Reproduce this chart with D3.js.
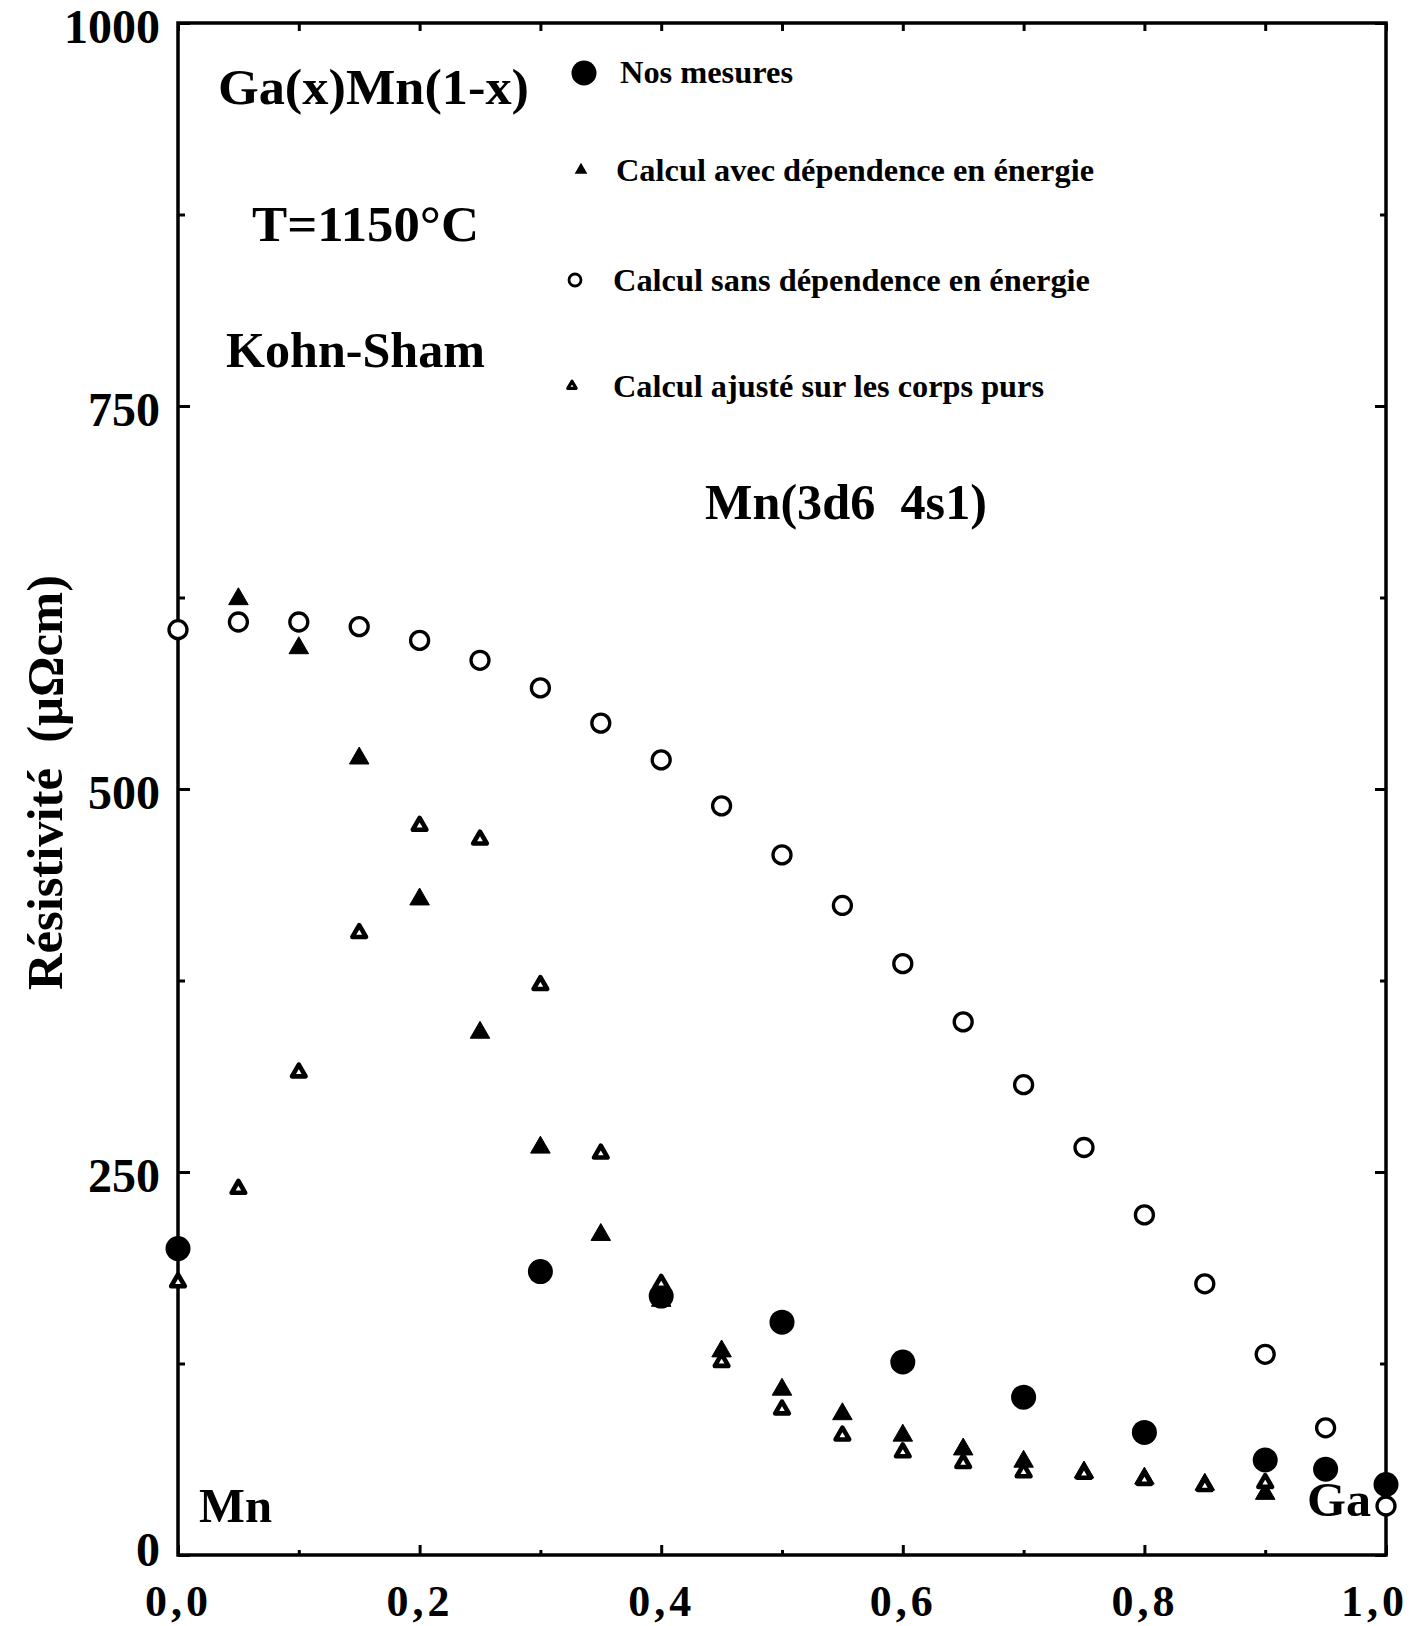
<!DOCTYPE html>
<html>
<head>
<meta charset="utf-8">
<script src="https://cdn.jsdelivr.net/npm/d3@7"></script>
<style>
  html, body { margin: 0; padding: 0; background: #fff; }
  svg { display: block; }
  text { font-family: "Liberation Serif", "Times New Roman", serif; font-weight: bold; fill: #000; }
</style>
</head>
<body>
<div id="chart"></div>
<script>
// ---------- data ----------
const xTickValues = [0, 0.2, 0.4, 0.6, 0.8, 1.0];
const xTickLabels = ["0,0", "0,2", "0,4", "0,6", "0,8", "1,0"];
const xMinorTicks = [0.1, 0.3, 0.5, 0.7, 0.9];
const yTickValues = [0, 250, 500, 750, 1000];
const yTickLabels = ["0", "250", "500", "750", "1000"];
const yMinorTicks = [125, 375, 625, 875];

// Nos mesures (filled circles)
const mesuresX = [0, 0.30, 0.40, 0.50, 0.60, 0.70, 0.80, 0.90, 0.95, 1.00];
const mesuresY = [200, 185, 169, 152, 126, 103, 80, 62, 56, 46];

// Calcul sans dépendence en énergie (open circles)
const sansX = [0, 0.05, 0.10, 0.15, 0.20, 0.25, 0.30, 0.35, 0.40, 0.45, 0.50, 0.55, 0.60, 0.65, 0.70, 0.75, 0.80, 0.85, 0.90, 0.95, 1.00];
const sansY = [604, 609, 609, 606, 597, 584, 566, 543, 519, 489, 457, 424, 386, 348, 307, 266, 222, 177, 131, 83, 32];

// Calcul avec dépendence en énergie (filled triangles)
const avecX = [0.05, 0.10, 0.15, 0.20, 0.25, 0.30, 0.35, 0.40, 0.45, 0.50, 0.55, 0.60, 0.65, 0.70, 0.75, 0.80, 0.85, 0.90];
const avecY = [624, 592, 520, 428, 341, 266, 209, 166, 133, 108, 92, 78, 69, 61, 54, 50, 46, 40];

// Calcul ajusté sur les corps purs (outlined triangles)
const ajusteX = [0, 0.05, 0.10, 0.15, 0.20, 0.25, 0.30, 0.35, 0.40, 0.45, 0.50, 0.55, 0.60, 0.65, 0.70, 0.75, 0.80, 0.85, 0.90];
const ajusteY = [178, 239, 315, 406, 476, 467, 372, 262, 177, 126, 95, 78, 67, 60, 54, 53, 49, 45, 47];

const legendLabels = ["Nos mesures", "Calcul avec dépendence en énergie", "Calcul sans dépendence en énergie", "Calcul ajusté sur les corps purs"];

// ---------- layout ----------
const W = 1426, H = 1626;
const pLeft = 178, pRight = 1386, pTop = 23, pBottom = 1555;

const svg = d3.select("#chart").append("svg").attr("width", W).attr("height", H);
svg.append("rect").attr("width", W).attr("height", H).attr("fill", "#fff");

const x = d3.scaleLinear().domain([0, 1]).range([pLeft, pRight]);
const y = d3.scaleLinear().domain([0, 1000]).range([pBottom, pTop]);

function styleAxis(g) {
  g.select(".domain").remove();
  g.selectAll(".tick line").attr("stroke", "#000").attr("stroke-width", 3);
}

// left axis (major with labels)
svg.append("g").attr("transform", `translate(${pLeft},0)`)
  .call(d3.axisLeft(y).tickValues(yTickValues).tickFormat((d, i) => yTickLabels[i]).tickSizeInner(-12).tickSizeOuter(0).tickPadding(18))
  .call(styleAxis)
  .call(g => g.selectAll("text").attr("font-size", 48).attr("font-family", "Liberation Serif").attr("font-weight", "bold")
    .attr("dy", (d, i) => i === 0 ? "0.22em" : "0.40em"));
svg.append("g").attr("transform", `translate(${pLeft},0)`)
  .call(d3.axisLeft(y).tickValues(yMinorTicks).tickFormat("").tickSizeInner(-7).tickSizeOuter(0))
  .call(styleAxis);
// right axis
svg.append("g").attr("transform", `translate(${pRight},0)`)
  .call(d3.axisRight(y).tickValues(yTickValues).tickFormat("").tickSizeInner(-11).tickSizeOuter(0))
  .call(styleAxis);
svg.append("g").attr("transform", `translate(${pRight},0)`)
  .call(d3.axisRight(y).tickValues(yMinorTicks).tickFormat("").tickSizeInner(-6).tickSizeOuter(0))
  .call(styleAxis);
// bottom axis
svg.append("g").attr("transform", `translate(0,${pBottom})`)
  .call(d3.axisBottom(x).tickValues(xTickValues).tickFormat((d, i) => xTickLabels[i]).tickSizeInner(-10).tickSizeOuter(0).tickPadding(30))
  .call(styleAxis)
  .call(g => g.selectAll("text").attr("font-size", 44).attr("font-family", "Liberation Serif").attr("font-weight", "bold")
    .attr("letter-spacing", 4).attr("dx", (d, i) => i === xTickLabels.length - 1 ? -12 : 0));
svg.append("g").attr("transform", `translate(0,${pBottom})`)
  .call(d3.axisBottom(x).tickValues(xMinorTicks).tickFormat("").tickSizeInner(-5).tickSizeOuter(0))
  .call(styleAxis);
// top axis
svg.append("g").attr("transform", `translate(0,${pTop})`)
  .call(d3.axisTop(x).tickValues(xTickValues.concat(xMinorTicks)).tickFormat("").tickSizeInner(-8).tickSizeOuter(0))
  .call(styleAxis);

// frame
svg.append("rect").attr("x", pLeft).attr("y", pTop).attr("width", pRight - pLeft).attr("height", pBottom - pTop)
  .attr("fill", "none").attr("stroke", "#000").attr("stroke-width", 3.5);

// y label
svg.append("text")
  .attr("transform", `translate(62,${(575 + 990) / 2}) rotate(-90)`)
  .attr("text-anchor", "middle")
  .attr("font-size", 50)
  .attr("textLength", 415).attr("lengthAdjust", "spacingAndGlyphs")
  .style("white-space", "pre")
  .text("Résistivité  (µΩcm)");

// ---------- marks ----------
const triFilled = d3.symbol().type(d3.symbolTriangle).size(165);
const triOutline = d3.symbol().type(d3.symbolTriangle).size(80);

// filled triangles
svg.append("g").selectAll("path").data(avecX.map((d, i) => [d, avecY[i]])).join("path")
  .attr("transform", d => `translate(${x(d[0])},${y(d[1])})`)
  .attr("d", triFilled()).attr("fill", "#000").attr("stroke", "#000").attr("stroke-width", 1).attr("stroke-linejoin", "round");

// filled circles
svg.append("g").selectAll("circle").data(mesuresX.map((d, i) => [d, mesuresY[i]])).join("circle")
  .attr("cx", d => x(d[0])).attr("cy", d => y(d[1])).attr("r", 12.5).attr("fill", "#000");

// open circles
svg.append("g").selectAll("circle").data(sansX.map((d, i) => [d, sansY[i]])).join("circle")
  .attr("cx", d => x(d[0])).attr("cy", d => y(d[1])).attr("r", 9)
  .attr("fill", "#fff").attr("stroke", "#000").attr("stroke-width", 3.3);

// outlined triangles
svg.append("g").selectAll("path").data(ajusteX.map((d, i) => [d, ajusteY[i]])).join("path")
  .attr("transform", d => `translate(${x(d[0])},${y(d[1])})`)
  .attr("d", triOutline()).attr("fill", "#fff").attr("stroke", "#000").attr("stroke-width", 4.6).attr("stroke-linejoin", "round");

// ---------- annotations ----------
function label(txt, xx, yy, size, len) {
  const t = svg.append("text").attr("x", xx).attr("y", yy).attr("font-size", size).style("white-space", "pre").text(txt);
  if (len) t.attr("textLength", len).attr("lengthAdjust", "spacingAndGlyphs");
  return t;
}
label("Ga(x)Mn(1-x)", 218, 104, 50, 311);
label("T=1150°C", 252, 241, 50, 227);
label("Kohn-Sham", 226, 367, 50, 259);
label("Mn(3d6  4s1)", 705, 519, 50, 282);
label("Mn", 199, 1522, 48, 73);
label("Ga", 1307, 1516, 48, 64);

// legend
const legY = [83, 181, 291, 397];
const legX = [620, 616, 613, 613];
const legLen = [173, 478, 477, 431];
legendLabels.forEach((s, i) => label(s, legX[i], legY[i], 31, legLen[i]));
svg.append("circle").attr("cx", 584).attr("cy", 73).attr("r", 12.5).attr("fill", "#000");
svg.append("path").attr("transform", "translate(581,170)").attr("d", d3.symbol().type(d3.symbolTriangle).size(70)()).attr("fill", "#000");
svg.append("circle").attr("cx", 575).attr("cy", 280).attr("r", 6).attr("fill", "#fff").attr("stroke", "#000").attr("stroke-width", 2.8);
svg.append("path").attr("transform", "translate(572,386)").attr("d", d3.symbol().type(d3.symbolTriangle).size(30)()).attr("fill", "#fff").attr("stroke", "#000").attr("stroke-width", 3.2).attr("stroke-linejoin", "round");
</script>
</body>
</html>
